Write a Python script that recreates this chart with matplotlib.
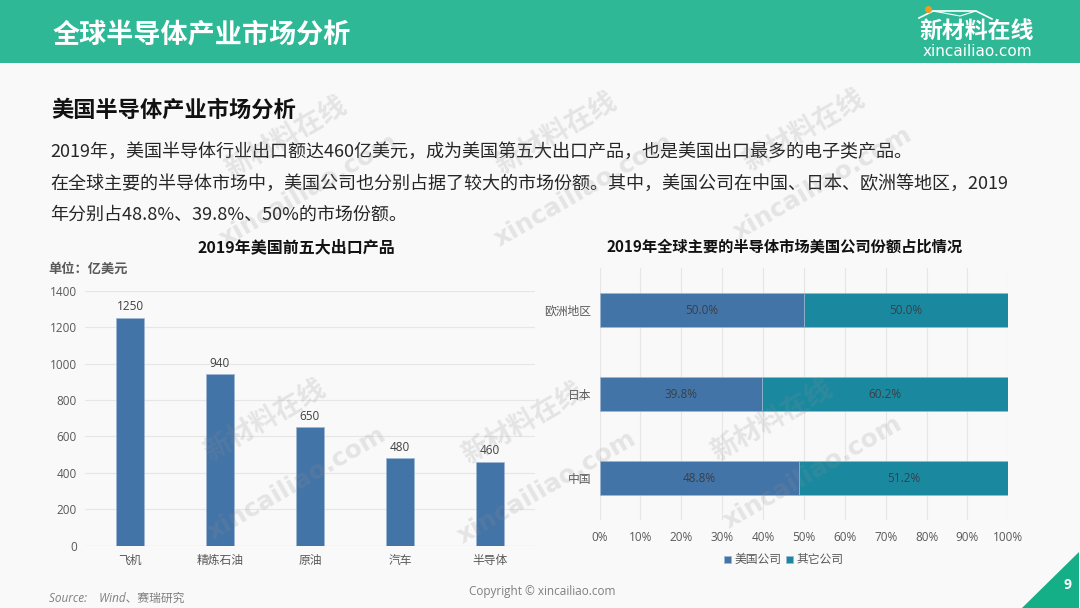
import matplotlib
matplotlib.use("Agg")
import matplotlib.pyplot as plt
from matplotlib.patches import Rectangle, Polygon
from matplotlib.lines import Line2D

# ---------------- data ----------------
products = ["飞机", "精炼石油", "原油", "汽车", "半导体"]
export_values = [1250, 940, 650, 480, 460]
y_ticks_left = [0, 200, 400, 600, 800, 1000, 1200, 1400]

regions = ["中国", "日本", "欧洲地区"]
us_share = [48.8, 39.8, 50.0]
other_share = [51.2, 60.2, 50.0]
x_ticks_right = [0, 10, 20, 30, 40, 50, 60, 70, 80, 90, 100]
series_names = ["美国公司", "其它公司"]

header_title = "全球半导体产业市场分析"
sub_title = "美国半导体产业市场分析"
para_lines = [
    "2019年，美国半导体行业出口额达460亿美元，成为美国第五大出口产品，也是美国出口最多的电子类产品。",
    "在全球主要的半导体市场中，美国公司也分别占据了较大的市场份额。其中，美国公司在中国、日本、欧洲等地区，2019",
    "年分别占48.8%、39.8%、50%的市场份额。",
]
left_title = "2019年美国前五大出口产品"
right_title = "2019年全球主要的半导体市场美国公司份额占比情况"

# ---------------- style ----------------
W, H = 1080, 608
BLUE = "#4374A8"
TEAL = "#1A89A0"
GREEN = "#2EB896"
BG = "#F9F9F9"
CJK = ["Noto Sans CJK SC", "DejaVu Sans"]
NUM = ["Open Sans", "Noto Sans CJK SC", "DejaVu Sans"]
plt.rcParams["font.family"] = CJK
plt.rcParams["axes.unicode_minus"] = False

fig = plt.figure(figsize=(W / 100, H / 100), dpi=100, facecolor=BG)


def fx(x):
    return x / W


def fy(y):
    return 1 - y / H


# header band
fig.patches.append(Rectangle((0, fy(63)), 1, 63 / H, transform=fig.transFigure,
                             facecolor=GREEN, edgecolor="none", zorder=0))
fig.text(fx(53), fy(34), header_title, color="white", fontsize=19.5,
         fontweight="bold", va="center", ha="left", family=CJK)

# logo
fig.text(fx(977), fy(31), "新材料在线", color="white", fontsize=16.5,
         fontweight="bold", va="center", ha="center", family=CJK)
fig.text(fx(977), fy(51), "xincailiao.com", color="white", fontsize=11,
         va="center", ha="center", family=["DejaVu Sans"])
roof_x = [919, 933, 976, 992]
roof_y = [18, 11, 11, 19]
fig.add_artist(Line2D([fx(v) for v in roof_x], [fy(v) for v in roof_y],
                      transform=fig.transFigure, color="white", lw=1.2))
fig.add_artist(Line2D([fx(v) for v in [933, 960, 976]], [fy(v) for v in [11, 16, 11]],
                      transform=fig.transFigure, color="white", lw=0.8))
fig.add_artist(Line2D([fx(928)], [fy(9)], transform=fig.transFigure, marker="o",
                      markersize=4, color="#F39A1E", lw=0))

# subtitle & paragraph
fig.text(fx(51), fy(110), sub_title, color="#111111", fontsize=16,
         fontweight="bold", va="center", ha="left", family=CJK)
for yy, line in zip([152, 183.5, 215], para_lines):
    fig.text(fx(50), fy(yy), line, color="#262626", fontsize=13,
             va="center", ha="left", family=CJK)

# ---------------- left chart ----------------
axL = fig.add_axes([fx(85), fy(545.7), (535 - 85) / W, (545.7 - 290.7) / H])
axL.set_facecolor("none")
xs = list(range(len(products)))
bars = axL.bar(xs, export_values, width=0.31, color=BLUE, edgecolor="#9DB6D3",
               linewidth=0.5, zorder=3)
for x, v in zip(xs, export_values):
    axL.text(x, v + 25, f"{v}", ha="center", va="bottom", fontsize=8.5,
             color="#404040", family=NUM)
axL.set_xlim(-0.5, len(products) - 0.5)
axL.set_ylim(0, 1400)
axL.set_yticks(y_ticks_left)
axL.set_yticklabels([str(t) for t in y_ticks_left], family=NUM, fontsize=8.5,
                    color="#595959")
axL.set_xticks(xs)
axL.set_xticklabels(products, family=CJK, fontsize=8.5, color="#595959")
axL.tick_params(axis="both", length=0)
axL.tick_params(axis="y", pad=6)
axL.tick_params(axis="x", pad=6)
axL.grid(axis="y", color="#E6E6E6", lw=0.8, zorder=0)
for s in axL.spines.values():
    s.set_visible(False)
axL.axhline(0, color="#D9D9D9", lw=0.8, zorder=2)

fig.text(fx(296), fy(247), left_title, fontsize=11.5, fontweight="bold",
         color="#111111", ha="center", va="center", family=CJK)
fig.text(fx(48), fy(269), "单位：亿美元", fontsize=9.5, fontweight="bold",
         color="#595959", ha="left", va="center", family=CJK)

# ---------------- right chart ----------------
axR = fig.add_axes([fx(599.6), fy(520), (1008.3 - 599.6) / W, (520 - 268) / H])
axR.set_facecolor("none")
ys = list(range(len(regions)))
axR.barh(ys, us_share, height=0.4, color=BLUE, edgecolor="#9DB6D3",
         linewidth=0.5, zorder=3, label=series_names[0])
axR.barh(ys, other_share, left=us_share, height=0.4, color=TEAL,
         edgecolor="#9DB6D3", linewidth=0.5, zorder=3, label=series_names[1])
for y, a, b in zip(ys, us_share, other_share):
    axR.text(a / 2, y, f"{a:.1f}%", ha="center", va="center", fontsize=8.5,
             color="#3A3F47", family=NUM, zorder=4)
    axR.text(a + b / 2, y, f"{b:.1f}%", ha="center", va="center", fontsize=8.5,
             color="#3A3F47", family=NUM, zorder=4)
axR.set_xlim(0, 100)
axR.set_ylim(-0.5, len(regions) - 0.5)
axR.set_xticks(x_ticks_right)
axR.set_xticklabels([f"{t}%" for t in x_ticks_right], family=NUM, fontsize=8.5,
                    color="#595959")
axR.set_yticks(ys)
axR.set_yticklabels(regions, family=CJK, fontsize=8.5, color="#595959")
axR.tick_params(axis="both", length=0)
axR.tick_params(axis="y", pad=6)
axR.tick_params(axis="x", pad=8)
axR.grid(axis="x", color="#E6E6E6", lw=0.8, zorder=0)
for s in axR.spines.values():
    s.set_visible(False)

fig.text(fx(784.5), fy(247), right_title, fontsize=11, fontweight="bold",
         color="#111111", ha="center", va="center", family=CJK)
leg = axR.legend(loc="center", bbox_to_anchor=(fx(783.6), fy(560)),
                 bbox_transform=fig.transFigure, ncol=2, frameon=False,
                 handlelength=0.6, handleheight=0.6, handletextpad=0.3,
                 columnspacing=0.4, prop={"family": CJK, "size": 8.5})
for t in leg.get_texts():
    t.set_color("#595959")

# ---------------- footer ----------------
fig.text(fx(49), fy(598), "Source:    Wind、赛瑞研究", fontsize=8.5, style="italic",
         color="#7F7F7F", ha="left", va="center", family=NUM)
fig.text(fx(542), fy(592), "Copyright © xincailiao.com", fontsize=8.5,
         color="#7F7F7F", ha="center", va="center", family=NUM)
fig.patches.append(Polygon([[fx(1022), fy(608)], [fx(1079), fy(552)], [fx(1079), fy(608)]],
                           closed=True, transform=fig.transFigure,
                           facecolor="#14AE87", edgecolor="none"))
fig.text(fx(1068), fy(585), "9", fontsize=10, fontweight="bold", color="white",
         ha="center", va="center", family=NUM)

# ---------------- watermarks ----------------
wm_cn = [(286, 137), (556, 133), (804, 130), (265, 420), (523, 423), (772, 420)]
wm_en = [(309, 190), (584, 190), (823, 183), (297, 483), (547, 487), (813, 472)]
for x, y in wm_cn:
    fig.text(fx(x), fy(y), "新材料在线", fontsize=19.5, fontweight="bold",
             color="#8C8C8C", alpha=0.19, rotation=30, ha="center", va="center",
             rotation_mode="anchor", family=CJK, zorder=10)
for x, y in wm_en:
    fig.text(fx(x), fy(y), "xincailiao.com", fontsize=18, fontweight="bold",
             color="#8C8C8C", alpha=0.19, rotation=30, ha="center", va="center",
             rotation_mode="anchor", family=["DejaVu Sans"], zorder=10)

fig.savefig("out.png", dpi=100, facecolor=BG)
